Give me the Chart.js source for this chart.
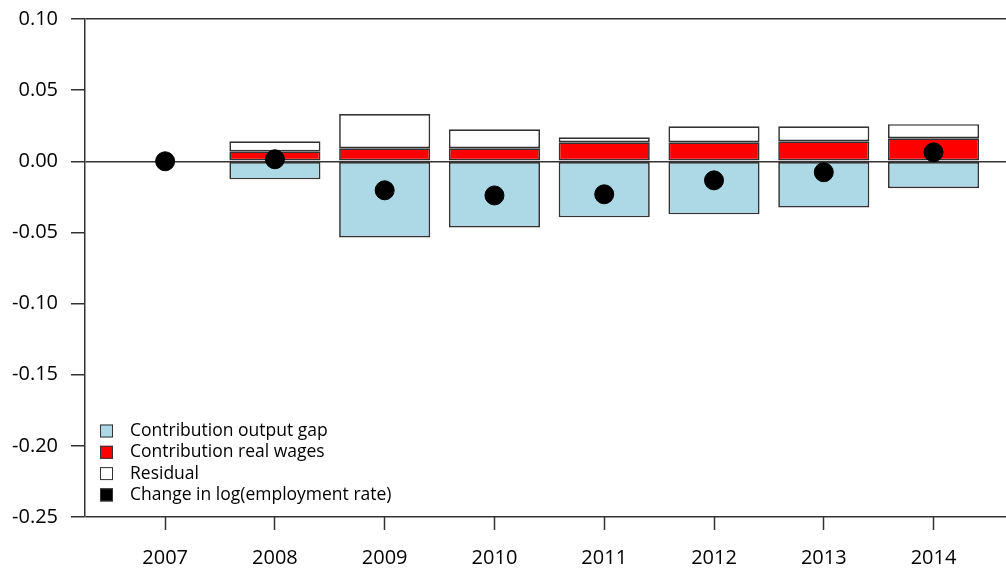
<!DOCTYPE html>
<html>
<head>
<meta charset="utf-8">
<script src="https://cdn.jsdelivr.net/npm/chart.js@4.4.1/dist/chart.umd.min.js"></script>
<style>
  body { margin: 0; background: #fff; }
  #wrap { width: 1006px; height: 573px; }
</style>
</head>
<body>
<div id="wrap"><canvas id="chart" width="1006" height="573"></canvas></div>
<script>
const years = [2007, 2008, 2009, 2010, 2011, 2012, 2013, 2014];
const outputGap = [0, -0.0127, -0.0535, -0.0465, -0.0394, -0.0373, -0.0324, -0.019];
const realWages = [0, 0.007, 0.0092, 0.0092, 0.0134, 0.0134, 0.0141, 0.0162];
const residual = [0, 0.007, 0.024, 0.0133, 0.0035, 0.0112, 0.0105, 0.0099];
const employment = [0, 0.0014, -0.0204, -0.024, -0.0232, -0.0134, -0.0077, 0.0063];
const yTicks = [0.10, 0.05, 0.00, -0.05, -0.10, -0.15, -0.20, -0.25];

const legendItems = [
  { label: 'Contribution output gap', color: '#add8e6' },
  { label: 'Contribution real wages', color: '#ff0000' },
  { label: 'Residual', color: '#ffffff' },
  { label: 'Change in log(employment rate)', color: '#000000' }
];

const font = '"Open Sans", "Noto Sans", sans-serif';
const edge = '#333333';

const pts = arr => years.map((y, i) => ({ x: y, y: arr[i] }));

const barStyle = {
  type: 'bar',
  borderColor: edge,
  borderWidth: 1.7,
  borderSkipped: false,
  barPercentage: 0.83,
  categoryPercentage: 1,
  order: 1
};

// legend inside the plot, bottom left
const boxLegend = {
  id: 'boxLegend',
  afterDraw(chart) {
    const ctx = chart.ctx;
    ctx.save();
    ctx.font = '17.5px ' + font;
    ctx.textBaseline = 'middle';
    legendItems.forEach((it, i) => {
      const cy = 431 + i * 21.3;
      ctx.fillStyle = it.color;
      ctx.fillRect(100, cy - 6.5, 13, 13);
      ctx.strokeStyle = edge;
      ctx.lineWidth = 1;
      ctx.strokeRect(100.5, cy - 6, 12, 12);
      ctx.fillStyle = '#000';
      ctx.fillText(it.label, 130, cy);
    });
    ctx.restore();
  }
};

new Chart(document.getElementById('chart'), {
  data: {
    datasets: [
      { ...barStyle, label: 'Contribution output gap', data: pts(outputGap), backgroundColor: '#add8e6' },
      { ...barStyle, label: 'Contribution real wages', data: pts(realWages), backgroundColor: '#ff0000' },
      { ...barStyle, label: 'Residual', data: pts(residual), backgroundColor: '#ffffff' },
      {
        type: 'line',
        label: 'Change in log(employment rate)',
        data: pts(employment),
        showLine: false,
        pointRadius: 9.5,
        pointHoverRadius: 9.5,
        pointBackgroundColor: '#000',
        pointBorderColor: '#000',
        order: 0
      }
    ]
  },
  options: {
    responsive: false,
    animation: false,
    layout: { autoPadding: false, padding: { top: 19, right: 0, left: 0, bottom: 0 } },
    plugins: { legend: { display: false }, tooltip: { enabled: false } },
    scales: {
      x: {
        type: 'linear',
        stacked: true,
        offset: false,
        min: 2006.27,
        max: 2014.66,
        afterBuildTicks: s => { s.ticks = years.map(v => ({ value: v })); },
        afterFit: s => { s.height = 56; s.paddingRight = 0; s.paddingLeft = 0; },
        grid: { offset: false, drawOnChartArea: false, drawTicks: true, tickLength: 13, tickColor: edge, tickWidth: 1.5 },
        border: { display: false },
        ticks: { color: '#000', font: { family: font, size: 20 }, padding: 16, callback: v => String(v) }
      },
      y: {
        stacked: true,
        min: -0.25,
        max: 0.10,
        afterBuildTicks: s => { s.ticks = yTicks.map(v => ({ value: v })); },
        afterFit: s => { s.width = 85; s.paddingTop = 0; s.paddingBottom = 0; },
        grid: {
          color: c => [0.1, 0, -0.25].some(v => Math.abs(c.tick.value - v) < 1e-9) ? edge : 'rgba(0,0,0,0)',
          lineWidth: 1.5,
          tickLength: 14,
          tickColor: edge,
          tickWidth: 1.5
        },
        border: { display: true, color: edge, width: 1.5 },
        ticks: { color: '#000', font: { family: font, size: 20 }, padding: 13, callback: v => v.toFixed(2) }
      }
    }
  },
  plugins: [boxLegend]
});
</script>
</body>
</html>
